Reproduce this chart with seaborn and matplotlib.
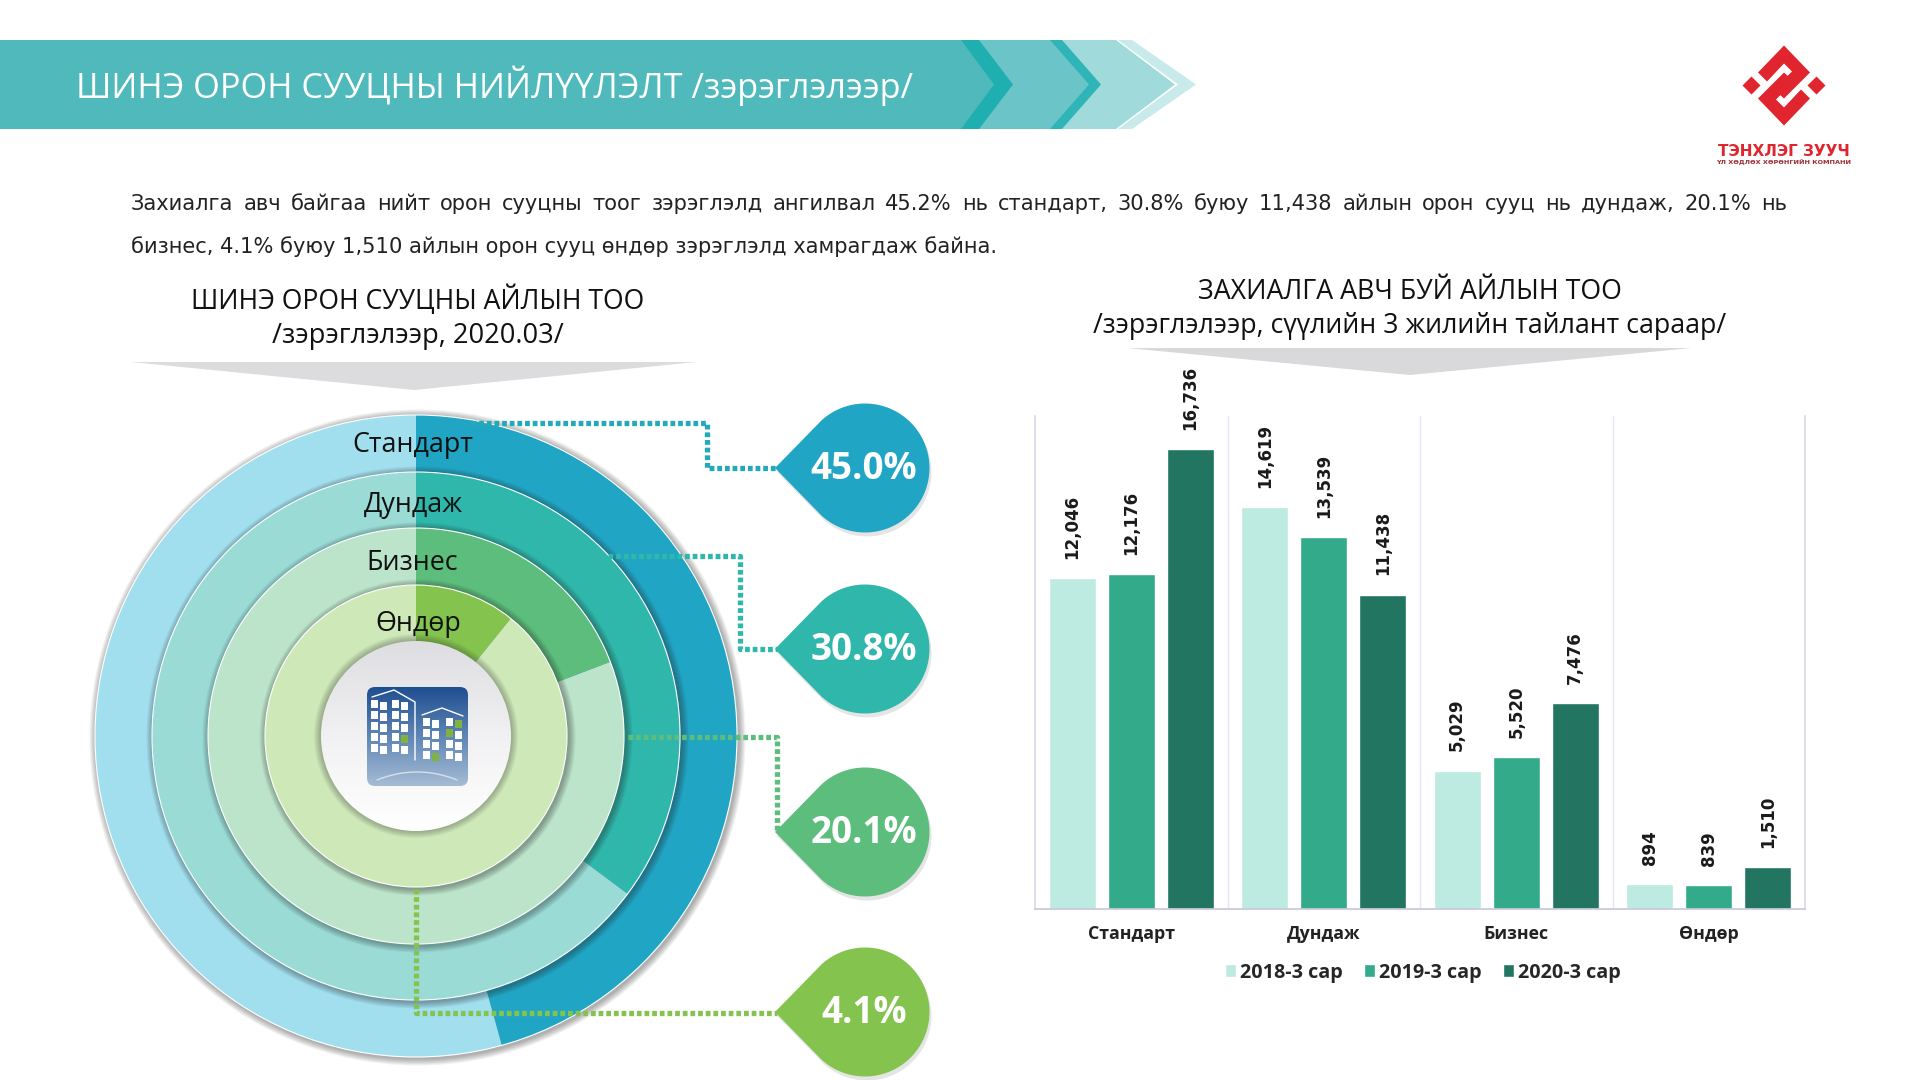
import numpy as np
import pandas as pd
import matplotlib
matplotlib.use('Agg')
import matplotlib.pyplot as plt
import seaborn as sns
from matplotlib.patches import Circle, Polygon, FancyBboxPatch, Rectangle

# bar chart values
levels = ['Стандарт', 'Дундаж', 'Бизнес', 'Өндөр']
years = ['2018-3 сар', '2019-3 сар', '2020-3 сар']
values_2018 = [12046, 14619, 5029, 894]
values_2019 = [12176, 13539, 5520, 839]
values_2020 = [16736, 11438, 7476, 1510]
bar_colors = ['#BEEBE1', '#33AB8B', '#217561']

# rings, outer to inner. sweep is what the picture draws, not the printed share
ring_sweep = [45.7, 35.2, 19.2, 10.8]
ring_labels = ['45.0%', '30.8%', '20.1%', '4.1%']
ring_radius = [321, 264, 208, 151]
ring_dark = ['#20A5C4', '#2FB7AC', '#5CBD7C', '#84C44E']
ring_light = ['#A2DFEE', '#9ADBD6', '#BCE4CA', '#CEE8B8']

title = 'ШИНЭ ОРОН СУУЦНЫ НИЙЛҮҮЛЭЛТ /зэрэглэлээр/'
para_1 = ('Захиалга авч байгаа нийт орон сууцны тоог зэрэглэлд ангилвал 45.2% нь стандарт, '
          '30.8% буюу 11,438 айлын орон сууц нь дундаж, 20.1% нь')
para_2 = 'бизнес, 4.1% буюу 1,510 айлын орон сууц өндөр зэрэглэлд хамрагдаж байна.'

sns.set_theme(style='white')
plt.rcParams['font.family'] = ['Open Sans', 'DejaVu Sans']

W, H = 1919, 1080
fig = plt.figure(figsize=(W / 100, H / 100), dpi=100, facecolor='white')


def box(x0, y0, x1, y1):
    return [x0 / W, 1 - y1 / H, (x1 - x0) / W, (y1 - y0) / H]


# ---- rings
CX, CY = 416, 736
ring_ax = fig.add_axes(box(CX - 345, CY - 345, CX + 345, CY + 345))
for r, share, dark, light in zip(ring_radius, ring_sweep, ring_dark, ring_light):
    for k in range(7, 0, -1):
        ring_ax.add_patch(Circle((1.5, -1.5), r + k, color='#222222', alpha=0.06, lw=0))
    ring_ax.pie([share, 100 - share], colors=[dark, light], radius=r, startangle=90,
                counterclock=False, frame=True,
                wedgeprops={'linewidth': 0, 'edgecolor': 'white'})
    ring_ax.add_patch(Circle((0, 0), r, fill=False, ec='white', lw=0.8))
for k in range(7, 0, -1):
    ring_ax.add_patch(Circle((0, 0), 95 + k, color='#333333', alpha=0.05, lw=0))
clip = Circle((0, 0), 95, transform=ring_ax.transData, fc='none', lw=0)
ring_ax.add_patch(clip)
grad = np.linspace(0, 1, 100).reshape(-1, 1)
im = ring_ax.imshow(grad, extent=(-95, 95, -95, 95), cmap=matplotlib.colors.LinearSegmentedColormap.from_list(
    'c', ['#DEDEE2', '#F1F1F3', '#FFFFFF']), origin='upper', aspect='auto', zorder=4)
im.set_clip_path(clip)
ring_ax.set_xlim(-345, 345)
ring_ax.set_ylim(-345, 345)
ring_ax.axis('off')

# ---- bars
bar_ax = fig.add_axes(box(1035, 416, 1805, 908.5))
df = pd.DataFrame({
    'level': levels * 3,
    'year': np.repeat(years, 4),
    'count': values_2018 + values_2019 + values_2020,
})
sns.barplot(data=df, x='level', y='count', hue='year', palette=bar_colors, width=0.92, gap=0.2,
            saturation=1, ax=bar_ax, legend=True)
bar_ax.set_ylim(0, 17950)
bar_ax.set_xlim(-0.5, 3.5)
bar_ax.set_xlabel('')
bar_ax.set_ylabel('')
bar_ax.set_yticks([])
for cont in bar_ax.containers:
    bar_ax.bar_label(cont, labels=[f'{v:,.0f}' for v in cont.datavalues], rotation=90, padding=14,
                     fontsize=12, fontweight='bold', color='#1a1a1a', family='DejaVu Sans')
for x in [0.5, 1.5, 2.5]:
    bar_ax.axvline(x, color='#E6E6F2', lw=1)
for s in ['left', 'right']:
    bar_ax.spines[s].set_color('#DADAEC')
bar_ax.spines['top'].set_visible(False)
bar_ax.spines['bottom'].set_color('#C8C8DC')
bar_ax.tick_params(axis='x', length=0, pad=12)
for t in bar_ax.get_xticklabels():
    t.set_fontsize(12.8)
    t.set_fontweight('bold')
    t.set_color('#222222')
bar_ax.legend(loc='center', bbox_to_anchor=(0.504, -0.13), ncol=3, frameon=False,
              handlelength=0.55, handleheight=0.6, handletextpad=0.2, columnspacing=1.1,
              prop={'weight': 'bold', 'size': 14.2})

# ---- overlay in pixel coordinates
ov = fig.add_axes([0, 0, 1, 1], zorder=5)
ov.set_xlim(0, W)
ov.set_ylim(H, 0)
ov.axis('off')
ov.patch.set_alpha(0)


def poly(pts, color, **kw):
    ov.add_patch(Polygon(pts, closed=True, fc=color, ec='none', **kw))


def chevron(x_top, tip, color):
    poly([(0, 40), (x_top, 40), (tip, 84.5), (x_top, 129), (0, 129)], color)


# banner, back to front
chevron(1132, 1196, '#C9EAEA')
chevron(1118, 1178, 'white')
chevron(1116, 1175, '#A1DADA')
chevron(1062, 1101, '#2FB5B7')
chevron(1050, 1089, '#6BC4C8')
chevron(979, 1013, '#1FAFB0')
chevron(961, 994, '#4FB9BC')
ov.text(76, 86, title, color='white', fontsize=24.7, va='center', ha='left')

# logo
red = '#E1252E'
cx_l, cy_l = 1784, 85.5
upper = np.array([(-26, -13), (0, -40), (26, -13), (0, 13), (-10, 4), (8, -14), (0, -22), (-17, -4)], float)
poly(upper + (cx_l, cy_l), red)
poly(-upper + (cx_l, cy_l), red)
for dx in (-32.5, 32.5):
    poly(np.array([(-9, 0), (0, -9), (9, 0), (0, 9)]) + (cx_l + dx, cy_l), red)
ov.text(1784, 151, 'ТЭНХЛЭГ ЗУУЧ', color=red, fontsize=11, fontweight='bold', ha='center', va='center',
        family='DejaVu Sans')
ov.text(1784, 162, 'ҮЛ ХӨДЛӨХ ХӨРӨНГИЙН КОМПАНИ', color='#9C2A30', fontsize=4.65, fontweight='bold',
        ha='center', va='center', family='DejaVu Sans')

# paragraph, first line justified word by word
renderer = fig.canvas.get_renderer()
para_size = 15.1
words = para_1.split(' ')
objs = [ov.text(0, 204, w, fontsize=para_size, va='center', ha='left', color='#222222',
                family='DejaVu Sans') for w in words]
widths = [o.get_window_extent(renderer).width for o in objs]
space = (1787 - 131 - sum(widths)) / (len(words) - 1)
xpos = 131
for o, w in zip(objs, widths):
    o.set_x(xpos)
    xpos += w + space
ov.text(131, 247, para_2, fontsize=para_size, va='center', ha='left', color='#222222', family='DejaVu Sans')

# section headings
ov.text(418, 301, 'ШИНЭ ОРОН СУУЦНЫ АЙЛЫН ТОО', fontsize=19.1, ha='center', va='center', color='#111111')
ov.text(418, 336, '/зэрэглэлээр, 2020.03/', fontsize=19.6, ha='center', va='center', color='#111111')
ov.text(1410, 292, 'ЗАХИАЛГА АВЧ БУЙ АЙЛЫН ТОО', fontsize=19.3, ha='center', va='center', color='#111111')
ov.text(1410, 326, '/зэрэглэлээр, сүүлийн 3 жилийн тайлант сараар/', fontsize=19.3, ha='center', va='center',
        color='#111111')
poly([(131, 362), (697, 362), (414, 390)], '#DCDCDE')
poly([(1127, 348), (1692, 348), (1410, 375)], '#D9D9DB')

# ring captions
for label, (x, y) in zip(levels, [(413, 445), (413.5, 505), (412.5, 563), (418, 624)]):
    ov.text(x, y, label, fontsize=19.4, ha='center', va='center', color='#111111')

# dotted connectors
dots = (0, (0.9, 0.55))
paths = [
    [(471, 423), (707, 423), (707, 468), (777, 468)],
    [(608, 556), (740, 556), (740, 649), (777, 649)],
    [(628, 737), (777, 737), (777, 832)],
    [(416, 889), (416, 1013), (777, 1013)],
]
dot_colors = ['#23A9B9', '#2FB7AC', '#5CBD7C', '#84C44E']
for p, c in zip(paths, dot_colors):
    p = np.array(p)
    ov.plot(p[:, 0], p[:, 1], color=c, lw=3.8, linestyle=dots, solid_capstyle='butt')

# teardrops
drop_y = [468, 649, 832, 1012]
theta = np.radians(np.linspace(-132, 132, 80))
for y, c, lab in zip(drop_y, ring_dark, ring_labels):
    pts = [(775, y)] + [(865 + 64.5 * np.cos(t), y + 64.5 * np.sin(t)) for t in theta]
    poly(np.array(pts) + (2, 4), '#000000', alpha=0.10)
    poly(pts, c)
    ov.text(864, y + 1, lab, color='white', fontsize=26.5, fontweight='bold', ha='center', va='center')

# building icon
cm_ic = matplotlib.colors.LinearSegmentedColormap.from_list('b', ['#1F4F91', '#5F86B5', '#A5BBD4'])
im2 = ov.imshow(np.linspace(0, 1, 100).reshape(-1, 1), extent=(367, 468, 786, 687), cmap=cm_ic,
                aspect='auto', zorder=6)
ic2 = FancyBboxPatch((367, 687), 101, 99, boxstyle='round,pad=0,rounding_size=8', fc='none', ec='none',
                     transform=ov.transData)
ov.add_patch(ic2)
im2.set_clip_path(ic2)
ov.set_xlim(0, W)
ov.set_ylim(H, 0)
ov.set_aspect('auto')
rows = [(371, 700, 5, 2), (392, 700, 5, 2), (423, 718, 4, 2), (446, 718, 4, 2)]
for x0, y0, nrow, ncol in rows:
    for i in range(nrow):
        for j in range(ncol):
            col = 'white'
            if (x0, i, j) in [(446, 1, 0), (423, 3, 1), (392, 3, 1), (446, 0, 1)]:
                col = '#7FB23E'
            ov.add_patch(Rectangle((x0 + j * 9, y0 + i * 11 + (j * 1.5)), 6.5, 8, fc=col, ec='none', zorder=7))
ov.plot([372, 394, 415, 415], [697, 690, 702, 760], color='white', lw=1, zorder=7)
ov.plot([422, 442, 463], [715, 708, 716], color='white', lw=1, zorder=7)
t = np.linspace(-1, 1, 30)
ov.plot(417 + 40 * t, 772 + 8 * t ** 2, color='#D5E0EC', lw=1, zorder=7)

fig.savefig('out.png', dpi=100)
